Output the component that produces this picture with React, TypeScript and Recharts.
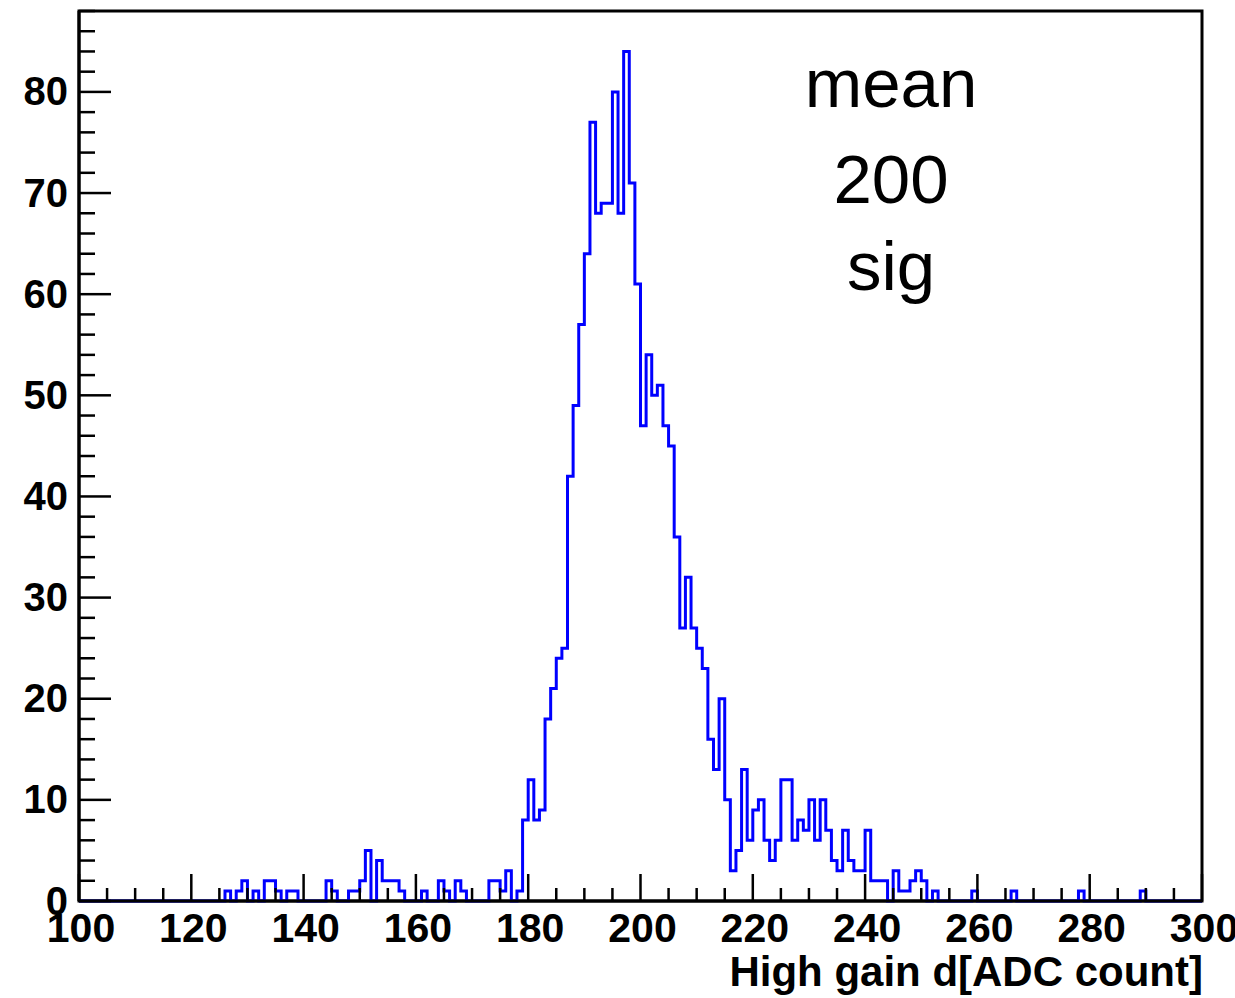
import { LineChart, Line, XAxis, YAxis, ReferenceArea } from "recharts";

// histogram: 1 ADC count per bin, 100..300
const binLow = 100;
const binWidth = 1;

// bins 100-149
const counts100 = [
  0, 0, 0, 0, 0, 0, 0, 0, 0, 0,
  0, 0, 0, 0, 0, 0, 0, 0, 0, 0,
  0, 0, 0, 0, 0, 0, 1, 0, 1, 2,
  0, 1, 0, 2, 2, 1, 0, 1, 1, 0,
  0, 0, 0, 0, 2, 1, 0, 0, 1, 1,
];
// bins 150-199
const counts150 = [
  2, 5, 0, 4, 2, 2, 2, 1, 0, 0,
  0, 1, 0, 0, 2, 1, 0, 2, 1, 0,
  0, 0, 0, 2, 2, 1, 3, 0, 1, 8,
  12, 8, 9, 18, 21, 24, 25, 42, 49, 57,
  64, 77, 68, 69, 69, 80, 68, 84, 71, 61,
];
// bins 200-249
const counts200 = [
  47, 54, 50, 51, 47, 45, 36, 27, 32, 27,
  25, 23, 16, 13, 20, 10, 3, 5, 13, 6,
  9, 10, 6, 4, 6, 12, 12, 6, 8, 7,
  10, 6, 10, 7, 4, 3, 7, 4, 3, 3,
  7, 2, 2, 2, 0, 3, 1, 1, 2, 3,
];
// bins 250-299
const counts250 = [
  2, 0, 1, 0, 0, 0, 0, 0, 0, 1,
  0, 0, 0, 0, 0, 0, 1, 0, 0, 0,
  0, 0, 0, 0, 0, 0, 0, 0, 1, 0,
  0, 0, 0, 0, 0, 0, 0, 0, 0, 1,
  0, 0, 0, 0, 0, 0, 0, 0, 0, 0,
];

const xTicks = Array.from({ length: 41 }, (_, i) => 100 + i * 5);
const yTicks = Array.from({ length: 45 }, (_, i) => i * 2);
const statLines = ["mean", "200", "sig"];
const xTitle = "High gain d[ADC count]";

const counts = [...counts100, ...counts150, ...counts200, ...counts250];
const histData = counts.map((n, i) => ({ x: binLow + i * binWidth, n }));
// close the last bin
histData.push({ x: binLow + counts.length * binWidth, n: counts[counts.length - 1] });

const labelFont = "'Liberation Sans', Arial, Helvetica, sans-serif";

function XTick(props: any) {
  const { x, y, payload } = props;
  const v = payload.value;
  const major = v % 20 === 0;
  return (
    <g>
      <line x1={x} y1={y} x2={x} y2={y - (major ? 27 : 13)} stroke="#000" strokeWidth={2.5} />
      {major && (
        <text x={x + 2} y={y + 41} textAnchor="middle" fontFamily={labelFont} fontWeight="bold" fontSize={41} fill="#000">
          {v}
        </text>
      )}
    </g>
  );
}

function YTick(props: any) {
  const { x, y, payload } = props;
  const v = payload.value;
  const major = v % 10 === 0;
  return (
    <g>
      <line x1={x} y1={y} x2={x + (major ? 32 : 16)} y2={y} stroke="#000" strokeWidth={2.5} />
      {major && (
        <text x={x - 11} y={y + 13.5} textAnchor="end" fontFamily={labelFont} fontWeight="bold" fontSize={40} fill="#000">
          {v}
        </text>
      )}
    </g>
  );
}

export default function App() {
  return (
    <div style={{ position: "absolute", left: 0, top: 0, width: 1235, height: 998, background: "#fff", overflow: "hidden" }}>
      <LineChart width={1235} height={998} data={histData} margin={{ top: 11, right: 33, bottom: 0, left: 0 }}>
        <ReferenceArea x1={100} x2={300} y1={0} y2={88} fill="none" stroke="#000" strokeWidth={3} />
        <Line
          type="stepAfter"
          dataKey="n"
          stroke="#0000ff"
          strokeWidth={3}
          dot={false}
          isAnimationActive={false}
        />
        <XAxis
          dataKey="x"
          type="number"
          domain={[100, 300]}
          ticks={xTicks}
          interval={0}
          height={97}
          axisLine={{ stroke: "#000", strokeWidth: 3 }}
          tickLine={false}
          tickSize={0}
          tickMargin={0}
          tick={<XTick />}
        />
        <YAxis
          type="number"
          domain={[0, 88]}
          ticks={yTicks}
          interval={0}
          width={79}
          axisLine={{ stroke: "#000", strokeWidth: 3 }}
          tickLine={false}
          tickSize={0}
          tickMargin={0}
          tick={<YTick />}
        />
      </LineChart>
      <svg width={1235} height={998} style={{ position: "absolute", left: 0, top: 0, pointerEvents: "none" }}>
        {statLines.map((s, i) => (
          <text key={s} x={891} y={[107, 203, 290][i]} textAnchor="middle" fontFamily={labelFont} fontSize={69} fill="#000">
            {s}
          </text>
        ))}
        <text x={1203} y={986} textAnchor="end" fontFamily={labelFont} fontWeight="bold" fontSize={42} fill="#000">
          {xTitle}
        </text>
      </svg>
    </div>
  );
}
